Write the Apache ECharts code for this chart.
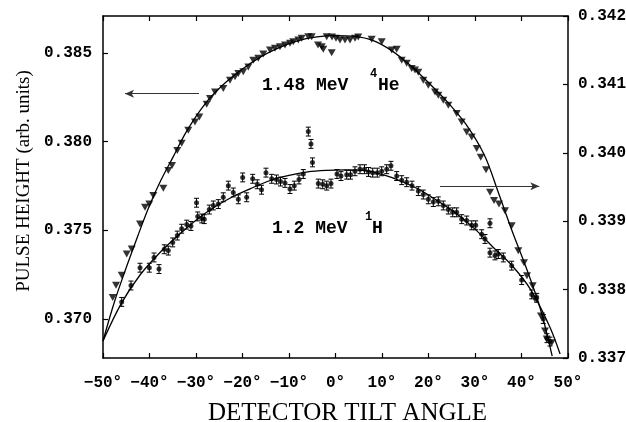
<!DOCTYPE html>
<html><head><meta charset="utf-8">
<script src="https://cdn.jsdelivr.net/npm/echarts@6/dist/echarts.min.js"></script>
<style>html,body{margin:0;padding:0;background:#fff}#c{width:626px;height:422px}</style>
</head><body><div id="c"></div>
<script>
// ---- data ----
const xTicks = [-50,-40,-30,-20,-10,0,10,20,30,40,50];
const leftTicks = [0.370,0.375,0.380,0.385];
const rightTicks = [0.337,0.338,0.339,0.340,0.341,0.342];

// 1.48 MeV 4He pulse heights (left axis)
const hePoints = [
[-47.91,0.37121],[-47.20,0.37191],[-45.98,0.37247],[-44.90,0.37366],[-43.83,0.37395],[-42.04,0.37536],
[-40.97,0.37630],[-40.04,0.37649],[-39.18,0.37696],[-37.03,0.37738],[-35.96,0.37838],[-35.16,0.37866],
[-34.02,0.37951],[-33.08,0.37991],[-31.66,0.38064],[-30.22,0.38111],[-29.29,0.38139],[-27.70,0.38211],
[-26.99,0.38244],[-25.91,0.38281],[-24.13,0.38300],[-22.69,0.38347],[-21.61,0.38366],[-20.90,0.38385],
[-19.83,0.38394],[-18.75,0.38422],[-17.68,0.38460],[-16.60,0.38470],[-15.53,0.38494],[-14.09,0.38517],
[-13.01,0.38527],[-11.94,0.38536],[-10.86,0.38545],[-9.79,0.38555],[-9.08,0.38564],[-8.00,0.38574],
[-7.27,0.38583],[-5.85,0.38592],[-5.12,0.38592],[-3.76,0.38545],[-2.97,0.38536],[-2.62,0.38521],
[-0.82,0.38502],[-1.89,0.38592],[-0.75,0.38591],[0.11,0.38583],[0.97,0.38574],[2.04,0.38574],
[3.12,0.38574],[4.19,0.38583],[4.90,0.38591],[7.78,0.38578],[9.94,0.38564],[12.09,0.38517],
[13.16,0.38521],[14.24,0.38460],[15.31,0.38442],[16.39,0.38413],[17.10,0.38404],[17.81,0.38392],
[18.88,0.38347],[19.96,0.38319],[21.40,0.38281],[22.11,0.38262],[23.18,0.38234],[24.26,0.38206],
[26.06,0.38159],[27.14,0.38111],[28.22,0.38055],[29.29,0.38026],[30.37,0.37961],[31.23,0.37913],
[32.37,0.37842],[33.23,0.37715],[34.09,0.37668],[35.16,0.37649],[36.45,0.37611],[37.89,0.37526],
[39.31,0.37385],[40.54,0.37317],[41.18,0.37244],[42.41,0.37187],[42.90,0.37113],[44.19,0.37017],
[45.05,0.36932],[45.42,0.36887],[46.50,0.36866]
];
const heFitX = [-50,-47.5,-45,-42.5,-40,-37.5,-35,-32,-28,-24,-20,-16,-12,-8,-4,0,4,8,12,16,20,24,28,32,35,38,41,44,46.6];
const heFitY = [0.36876,0.37100,0.37290,0.37470,0.37640,0.37785,0.37910,0.38060,0.38215,0.38325,0.38410,0.38480,0.38532,0.38570,0.38591,0.38598,0.38594,0.38572,0.38515,0.38432,0.38333,0.38226,0.38100,0.37925,0.37715,0.37495,0.37290,0.37062,0.36790];

// 1.2 MeV 1H pulse heights (right axis)
const hPoints = [
[-45.98,0.33782],[-43.98,0.33806],[-42.04,0.33832],[-40.04,0.33832],[-39.03,0.33847],[-37.96,0.33830],
[-36.82,0.33859],[-35.96,0.33857],[-35.01,0.33869],[-34.02,0.33879],[-33.08,0.33889],[-32.00,0.33895],
[-31.08,0.33893],[-29.89,0.33927],[-29.63,0.33907],[-28.77,0.33904],[-28.22,0.33903],[-27.14,0.33917],
[-26.28,0.33923],[-25.20,0.33925],[-24.13,0.33935],[-23.05,0.33952],[-21.98,0.33942],[-20.90,0.33932],
[-19.96,0.33964],[-19.10,0.33935],[-17.81,0.33962],[-16.82,0.33954],[-15.91,0.33946],[-14.95,0.33971],
[-13.72,0.33962],[-12.69,0.33961],[-11.83,0.33958],[-10.86,0.33956],[-9.79,0.33947],[-8.86,0.33952],
[-7.85,0.33961],[-6.93,0.33969],[-5.85,0.34031],[-5.27,0.34013],[-4.95,0.33986],[-3.70,0.33955],
[-2.75,0.33954],[-1.89,0.33952],[-0.97,0.33955],[0.32,0.33969],[1.18,0.33966],[2.41,0.33968],
[3.23,0.33968],[4.19,0.33973],[5.27,0.33976],[6.24,0.33976],[7.10,0.33972],[8.00,0.33971],
[8.99,0.33971],[9.93,0.33973],[11.01,0.33976],[11.93,0.33981],[13.16,0.33966],[14.24,0.33960],
[15.31,0.33957],[16.45,0.33952],[17.81,0.33944],[18.88,0.33939],[19.96,0.33932],[21.03,0.33928],
[22.11,0.33929],[23.18,0.33923],[24.26,0.33917],[25.20,0.33913],[26.06,0.33913],[27.14,0.33903],
[28.21,0.33901],[29.29,0.33894],[30.15,0.33894],[31.44,0.33881],[32.15,0.33874],[33.22,0.33897],
[33.22,0.33854],[34.30,0.33850],[35.01,0.33852],[36.09,0.33847],[37.89,0.33835],[40.04,0.33814],
[42.19,0.33793],[43.27,0.33788],[44.69,0.33757],[45.48,0.33729],[46.13,0.33724]
];
const hErr = 0.000065;
const hFitX = [-50,-46,-42,-38,-34,-30,-26,-22,-18,-14,-10,-6,-2,2,6,10,14,18,22,26,30,34,38,42,46,48.3];
const hFitY = [0.337249,0.337806,0.338217,0.338525,0.338781,0.339015,0.339207,0.339361,0.339485,0.339595,0.339669,0.339720,0.339742,0.339749,0.339742,0.339683,0.339588,0.339463,0.339295,0.339111,0.338884,0.338613,0.338349,0.337997,0.337469,0.337059];

const heArrow = [[-29.35,0.38271],[-45.27,0.38271]];
const hArrow = [[22.47,0.339512],[43.83,0.339512]];

// ---- chart ----
const chart = echarts.init(document.getElementById('c'), null, {renderer:'canvas'});
const mono = '"Liberation Mono", "DejaVu Sans Mono", monospace';
const serif = '"Liberation Serif", "DejaVu Serif", serif';
const axLine = {show:true, onZero:false, lineStyle:{color:'#000', width:1.5}};
const tick = {show:true, inside:true, length:5, lineStyle:{color:'#000', width:1.2}};
const fmtDeg = v => (v < 0 ? '\u2212' + Math.abs(v) : String(v)) + '\u00b0';
const fmt3 = v => v.toFixed(3);
const lbl = {fontFamily:mono, fontSize:16, fontWeight:'bold', color:'#000'};

chart.setOption({
  animation:false,
  backgroundColor:'#fff',
  grid:{left:103, right:58, top:16, bottom:64, containLabel:false, outerBoundsMode:'none'},
  xAxis:[
    {type:'value', min:-50, max:50, interval:10, position:'bottom',
     axisLine:axLine, axisTick:tick, splitLine:{show:false},
     axisLabel:Object.assign({formatter:fmtDeg, margin:17}, lbl),
     name:'DETECTOR TILT ANGLE', nameLocation:'middle', nameGap:43,
     nameTextStyle:{fontFamily:serif, fontSize:25, color:'#000', padding:[0,0,0,24]}},
    {type:'value', min:-50, max:50, interval:10, position:'top',
     axisLine:axLine, axisTick:tick, axisLabel:{show:false}, splitLine:{show:false}}
  ],
  yAxis:[
    {type:'value', min:0.3678, max:0.38709, position:'left',
     axisLine:axLine,
     axisTick:Object.assign({}, tick, {customValues:leftTicks}),
     splitLine:{show:false},
     axisLabel:Object.assign({customValues:leftTicks, formatter:fmt3, margin:11}, lbl),
     name:'PULSE HEIGHT (arb. units)', nameLocation:'middle', nameGap:58, nameRotate:90,
     nameTextStyle:{fontFamily:serif, fontSize:19, color:'#000', padding:[0,0,0,12]}},
    {type:'value', min:0.337, max:0.342, interval:0.001, position:'right',
     axisLine:axLine, axisTick:tick, splitLine:{show:false},
     axisLabel:Object.assign({formatter:fmt3, margin:10}, lbl)}
  ],
  series:[
    {type:'line', name:'He fit', xAxisIndex:0, yAxisIndex:0, smooth:0.35, showSymbol:false, symbol:'none',
     lineStyle:{color:'#000', width:1.3}, data:heFitX.map((x,i)=>[x, heFitY[i]]),
     markLine:{silent:true, symbol:['none','arrow'], symbolSize:[6,9], label:{show:false},
       lineStyle:{color:'#333', width:1, type:'solid'},
       data:[[{coord:heArrow[0]},{coord:heArrow[1]}]]}},
    {type:'scatter', name:'4He', xAxisIndex:0, yAxisIndex:0, symbol:'triangle', symbolRotate:180,
     symbolSize:[8,7], itemStyle:{color:'#000'}, data:hePoints},
    {type:'line', name:'H fit', xAxisIndex:0, yAxisIndex:1, smooth:0.35, showSymbol:false, symbol:'none',
     lineStyle:{color:'#000', width:1.3}, data:hFitX.map((x,i)=>[x, hFitY[i]]),
     markLine:{silent:true, symbol:['none','arrow'], symbolSize:[6,9], label:{show:false},
       lineStyle:{color:'#333', width:1, type:'solid'},
       data:[[{coord:hArrow[0]},{coord:hArrow[1]}]]}},
    {type:'custom', name:'H err', xAxisIndex:0, yAxisIndex:1, data:hPoints,
     encode:{x:0, y:1},
     renderItem:function(params, api){
       const x = api.value(0), y = api.value(1);
       const t = api.coord([x, y + hErr]), b = api.coord([x, y - hErr]);
       const w = 2.5, st = {stroke:'#000', lineWidth:1};
       return {type:'group', children:[
         {type:'line', shape:{x1:t[0], y1:t[1], x2:b[0], y2:b[1]}, style:st},
         {type:'line', shape:{x1:t[0]-w, y1:t[1], x2:t[0]+w, y2:t[1]}, style:st},
         {type:'line', shape:{x1:b[0]-w, y1:b[1], x2:b[0]+w, y2:b[1]}, style:st}
       ]};
     }},
    {type:'scatter', name:'1H', xAxisIndex:0, yAxisIndex:1, symbol:'circle', symbolSize:5,
     itemStyle:{color:'#000'}, data:hPoints}
  ],
  graphic:[
    {type:'text', left:262, top:76, style:{text:'1.48 MeV', font:'bold 18px ' + mono, fill:'#000'}},
    {type:'text', left:370, top:68, style:{text:'4', font:'bold 12px ' + mono, fill:'#000'}},
    {type:'text', left:378, top:76, style:{text:'He', font:'bold 18px ' + mono, fill:'#000'}},
    {type:'text', left:272, top:219, style:{text:'1.2 MeV', font:'bold 18px ' + mono, fill:'#000'}},
    {type:'text', left:365, top:211, style:{text:'1', font:'bold 12px ' + mono, fill:'#000'}},
    {type:'text', left:372, top:219, style:{text:'H', font:'bold 18px ' + mono, fill:'#000'}}
  ]
});
</script></body></html>
